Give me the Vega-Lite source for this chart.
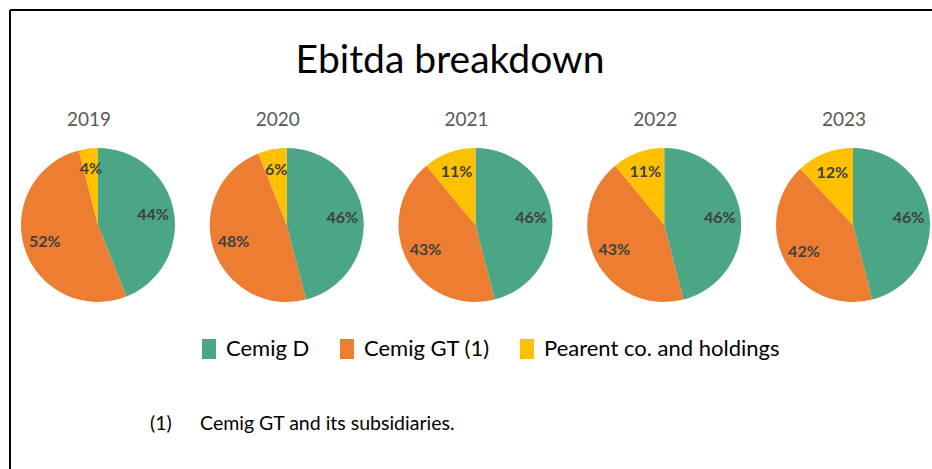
{
  "$schema": "https://vega.github.io/schema/vega-lite/v6.json",
  "width": 922,
  "height": 459,
  "autosize": {"type": "none"},
  "padding": {"left": 10, "top": 10, "right": 0, "bottom": 0},
  "background": "white",
  "config": {"view": {"stroke": null}, "font": "Lato"},
  "datasets": {
    "shares": [
      {"year": 2019, "category": "Cemig D", "value": 0.44},
      {"year": 2019, "category": "Cemig GT (1)", "value": 0.52},
      {"year": 2019, "category": "Pearent co. and holdings", "value": 0.04},
      {"year": 2020, "category": "Cemig D", "value": 0.46},
      {"year": 2020, "category": "Cemig GT (1)", "value": 0.48},
      {"year": 2020, "category": "Pearent co. and holdings", "value": 0.06},
      {"year": 2021, "category": "Cemig D", "value": 0.46},
      {"year": 2021, "category": "Cemig GT (1)", "value": 0.43},
      {"year": 2021, "category": "Pearent co. and holdings", "value": 0.11},
      {"year": 2022, "category": "Cemig D", "value": 0.46},
      {"year": 2022, "category": "Cemig GT (1)", "value": 0.43},
      {"year": 2022, "category": "Pearent co. and holdings", "value": 0.11},
      {"year": 2023, "category": "Cemig D", "value": 0.46},
      {"year": 2023, "category": "Cemig GT (1)", "value": 0.42},
      {"year": 2023, "category": "Pearent co. and holdings", "value": 0.12}
    ],
    "one": [{}]
  },
  "data": {"name": "shares"},
  "encoding": {
    "y": {"datum": 215, "type": "quantitative", "scale": {"domain": [0, 459], "reverse": true, "nice": false, "zero": false}, "axis": null}
  },
  "layer": [
    {
      "data": {"name": "one"},
      "mark": {"type": "rule", "color": "black", "strokeWidth": 2},
      "encoding": {
        "x": {"datum": 2018.534, "type": "quantitative", "scale": {"domain": [2018.534, 2023.4185], "nice": false, "zero": false}, "axis": null},
        "x2": {"datum": 2023.4185},
        "y": {"datum": 0, "type": "quantitative"}
      }
    },
    {
      "data": {"name": "one"},
      "mark": {"type": "rule", "color": "black", "strokeWidth": 2},
      "encoding": {
        "x": {"datum": 2018.534, "type": "quantitative"},
        "y": {"datum": 0, "type": "quantitative"},
        "y2": {"datum": 459}
      }
    },
    {
      "data": {"name": "one"},
      "mark": {"type": "text", "text": "Ebitda breakdown", "fontSize": 39, "color": "black", "align": "center", "baseline": "alphabetic"},
      "encoding": {
        "x": {"datum": 2020.865, "type": "quantitative"},
        "y": {"datum": 63, "type": "quantitative"}
      }
    },
    {"transform": [{"filter": "datum.year === 2019"}], "encoding": {"x": {"datum": 2019, "type": "quantitative"}}, "layer": [
      {"mark": {"type": "arc", "outerRadius": 77},
       "encoding": {"theta": {"field": "value", "type": "quantitative", "stack": true, "scale": {"domain": [0, 1]}},
                    "order": {"field": "category", "sort": "ascending"},
                    "color": {"field": "category", "type": "nominal", "scale": {"domain": ["Cemig D", "Cemig GT (1)", "Pearent co. and holdings"], "range": ["#4BA686", "#ED7D31", "#FFC000"]},
                      "legend": {"title": null, "orient": "none", "legendX": 188, "legendY": 328, "direction": "horizontal", "symbolType": "M-0.7,-1H0.7V1H-0.7Z", "symbolSize": 400, "symbolStrokeWidth": 0, "labelFontSize": 22, "labelFont": "Lato", "labelColor": "black", "labelOffset": 6, "columnPadding": 26, "labelLimit": 400}}}},
      {"mark": {"type": "text", "radius": 56, "fontSize": 16, "fontWeight": "bold", "color": "#404040"},
       "encoding": {"theta": {"field": "value", "type": "quantitative", "stack": true},
                    "order": {"field": "category", "sort": "ascending"},
                    "detail": {"field": "category", "type": "nominal"},
                    "text": {"field": "value", "type": "quantitative", "format": ".0%"}}}
    ]},
    {"transform": [{"filter": "datum.year === 2020"}], "encoding": {"x": {"datum": 2020, "type": "quantitative"}}, "layer": [
      {"mark": {"type": "arc", "outerRadius": 77},
       "encoding": {"theta": {"field": "value", "type": "quantitative", "stack": true},
                    "order": {"field": "category", "sort": "ascending"},
                    "color": {"field": "category", "type": "nominal"}}},
      {"mark": {"type": "text", "radius": 56, "fontSize": 16, "fontWeight": "bold", "color": "#404040"},
       "encoding": {"theta": {"field": "value", "type": "quantitative", "stack": true},
                    "order": {"field": "category", "sort": "ascending"},
                    "detail": {"field": "category", "type": "nominal"},
                    "text": {"field": "value", "type": "quantitative", "format": ".0%"}}}
    ]},
    {"transform": [{"filter": "datum.year === 2021"}], "encoding": {"x": {"datum": 2021, "type": "quantitative"}}, "layer": [
      {"mark": {"type": "arc", "outerRadius": 77},
       "encoding": {"theta": {"field": "value", "type": "quantitative", "stack": true},
                    "order": {"field": "category", "sort": "ascending"},
                    "color": {"field": "category", "type": "nominal"}}},
      {"mark": {"type": "text", "radius": 56, "fontSize": 16, "fontWeight": "bold", "color": "#404040"},
       "encoding": {"theta": {"field": "value", "type": "quantitative", "stack": true},
                    "order": {"field": "category", "sort": "ascending"},
                    "detail": {"field": "category", "type": "nominal"},
                    "text": {"field": "value", "type": "quantitative", "format": ".0%"}}}
    ]},
    {"transform": [{"filter": "datum.year === 2022"}], "encoding": {"x": {"datum": 2022, "type": "quantitative"}}, "layer": [
      {"mark": {"type": "arc", "outerRadius": 77},
       "encoding": {"theta": {"field": "value", "type": "quantitative", "stack": true},
                    "order": {"field": "category", "sort": "ascending"},
                    "color": {"field": "category", "type": "nominal"}}},
      {"mark": {"type": "text", "radius": 56, "fontSize": 16, "fontWeight": "bold", "color": "#404040"},
       "encoding": {"theta": {"field": "value", "type": "quantitative", "stack": true},
                    "order": {"field": "category", "sort": "ascending"},
                    "detail": {"field": "category", "type": "nominal"},
                    "text": {"field": "value", "type": "quantitative", "format": ".0%"}}}
    ]},
    {"transform": [{"filter": "datum.year === 2023"}], "encoding": {"x": {"datum": 2023, "type": "quantitative"}}, "layer": [
      {"mark": {"type": "arc", "outerRadius": 77},
       "encoding": {"theta": {"field": "value", "type": "quantitative", "stack": true},
                    "order": {"field": "category", "sort": "ascending"},
                    "color": {"field": "category", "type": "nominal"}}},
      {"mark": {"type": "text", "radius": 56, "fontSize": 16, "fontWeight": "bold", "color": "#404040"},
       "encoding": {"theta": {"field": "value", "type": "quantitative", "stack": true},
                    "order": {"field": "category", "sort": "ascending"},
                    "detail": {"field": "category", "type": "nominal"},
                    "text": {"field": "value", "type": "quantitative", "format": ".0%"}}}
    ]},
    {
      "transform": [{"filter": "datum.category === 'Cemig D'"}],
      "mark": {"type": "text", "fontSize": 19, "color": "#595959", "align": "center", "baseline": "middle", "dx": -9},
      "encoding": {
        "x": {"field": "year", "type": "quantitative"},
        "y": {"datum": 110, "type": "quantitative"},
        "text": {"field": "year", "type": "nominal"}
      }
    },
    {
      "data": {"name": "one"},
      "mark": {"type": "text", "text": "(1)", "fontSize": 19.5, "color": "black", "align": "left", "baseline": "middle"},
      "encoding": {
        "x": {"datum": 2019.276, "type": "quantitative"},
        "y": {"datum": 414, "type": "quantitative"}
      }
    },
    {
      "data": {"name": "one"},
      "mark": {"type": "text", "text": "Cemig GT and its subsidiaries.", "fontSize": 19.5, "color": "black", "align": "left", "baseline": "middle"},
      "encoding": {
        "x": {"datum": 2019.541, "type": "quantitative"},
        "y": {"datum": 414, "type": "quantitative"}
      }
    }
  ]
}
